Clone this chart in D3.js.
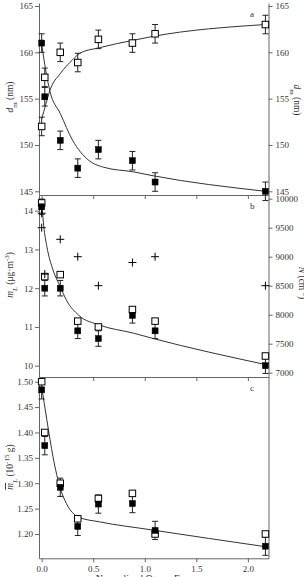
<!DOCTYPE html>
<html>
<head>
<meta charset="utf-8">
<script src="https://cdn.jsdelivr.net/npm/d3@7"></script>
<style>
body { margin: 0; background: #fff; }
svg { display: block; font-family: "Liberation Serif", "DejaVu Serif", serif; }
</style>
</head>
<body>
<svg></svg>
<script>
// ozone exposure of each sample
let exposure = [0, 0.03, 0.18, 0.35, 0.55, 0.88, 1.1, 2.17];

// panel a: mode diameter (nm)
let dmFilled = [161.0, 155.2, 150.5, 147.5, 149.5, 148.3, 146.0, 145.0];
let dmOpen = [152.0, 157.3, 160.0, 158.9, 161.4, 161.0, 162.0, 163.0];
let dmErr = 1.0;
let dmFallX = [0, 0.04, 0.08, 0.18, 0.3, 0.45, 0.6, 0.89, 1.07, 2.17];
let dmFallY = [160.9, 158.0, 155.8, 153.4, 150.5, 148.4, 147.6, 147.1, 146.7, 145.0];
let dmRiseX = [0, 0.04, 0.08, 0.18, 0.3, 0.37, 0.56, 0.89, 1.07, 2.17];
let dmRiseY = [152.8, 154.4, 155.9, 157.7, 159.2, 159.9, 160.5, 161.3, 161.7, 163.0];

// panel b: mass concentration and number concentration
let mlFilled = [14.1, 12.0, 12.0, 10.9, 10.7, 11.3, 10.9, 10.0];
let mlOpen = [14.2, 12.3, 12.35, 11.15, 11.0, 11.45, 11.15, 10.25];
let mlErr = 0.2;
let numX = [0, 0, 0.03, 0.18, 0.35, 0.55, 0.88, 1.1, 2.17];
let numY = [9750, 9500, 8700, 9300, 9000, 8500, 8900, 9000, 8500];
let mlFitX = [0, 0.02, 0.05, 0.11, 0.18, 0.24, 0.36, 0.56, 0.89, 1.07, 2.17];
let mlFitY = [14.2, 13.6, 13.08, 12.47, 12.04, 11.69, 11.3, 11.05, 10.84, 10.71, 10.03];

// panel c: mean particle mass (10^-15 g)
let mpFilled = [1.484, 1.374, 1.292, 1.215, 1.259, 1.26, 1.207, 1.176];
let mpOpen = [1.50, 1.40, 1.30, 1.23, 1.27, 1.28, 1.20, 1.20];
let mpErr = 0.018;
let mpFitX = [0, 0.05, 0.11, 0.18, 0.24, 0.36, 0.56, 1.07, 2.17];
let mpFitY = [1.49, 1.425, 1.352, 1.29, 1.26, 1.233, 1.224, 1.208, 1.175];

// tick labels
let xTicks = [0, 0.5, 1.0, 1.5, 2.0];
let dmTicks = [145, 150, 155, 160, 165];
let mlTicks = [10, 11, 12, 13, 14];
let numTicks = [7000, 7500, 8000, 8500, 9000, 9500, 10000];
let mpTicks = [1.20, 1.25, 1.30, 1.35, 1.40, 1.45, 1.50];

let width = 304;
let height = 577;
let left = 39;
let right = 268.5;
let axisColor = "#666";
let textColor = "#333";

let svg = d3.select("svg").attr("width", width).attr("height", height);

let xScale = d3.scaleLinear().domain([-0.026, 2.2]).range([left, right]);

let panels = [
  { top: 3, bottom: 195, y: d3.scaleLinear().domain([145, 165]).range([191.3, 6]), letter: "a" },
  { top: 195, bottom: 377, y: d3.scaleLinear().domain([10, 14]).range([365.7, 210.7]), letter: "b" },
  { top: 377, bottom: 558.3, y: d3.scaleLinear().domain([1.2, 1.5]).range([534, 381.7]), letter: "c" }
];
let numScale = d3.scaleLinear().domain([7000, 10000]).range([372.7, 198.7]);

let styleAxis = (g) => {
  g.selectAll("path").attr("stroke", axisColor);
  g.selectAll("line").attr("stroke", axisColor);
  g.selectAll("text").attr("fill", textColor).style("font-size", "9px").style("font-family", "Liberation Serif, serif");
};

// frames and axes
panels.forEach((p, i) => {
  let yFull = d3.scaleLinear().domain([0, 1]).range([p.bottom, p.top]);
  svg.append("g")
    .attr("transform", "translate(" + left + ",0)")
    .call(d3.axisLeft(yFull).tickValues([]).tickSizeOuter(0))
    .call(styleAxis);
  svg.append("g")
    .attr("transform", "translate(" + right + ",0)")
    .call(d3.axisRight(yFull).tickValues([]).tickSizeOuter(0))
    .call(styleAxis);
  svg.append("g")
    .attr("transform", "translate(0," + p.bottom + ")")
    .call(d3.axisBottom(xScale).tickValues(xTicks).tickSize(4).tickSizeOuter(0)
      .tickFormat(i == 2 ? d3.format(".1f") : ""))
    .call(styleAxis);

  svg.append("text")
    .attr("x", 250).attr("y", p.top + 14)
    .attr("fill", textColor).style("font-size", "9px")
    .text(p.letter);
});

let intFormat = d3.format("d");

svg.append("g")
  .attr("transform", "translate(" + left + ",0)")
  .call(d3.axisLeft(panels[0].y).tickValues(dmTicks).tickSize(4).tickSizeOuter(0).tickPadding(2).tickFormat(intFormat))
  .call(styleAxis).select(".domain").remove();
svg.append("g")
  .attr("transform", "translate(" + right + ",0)")
  .call(d3.axisRight(panels[0].y).tickValues(dmTicks).tickSize(4).tickSizeOuter(0).tickPadding(3).tickFormat(intFormat))
  .call(styleAxis).select(".domain").remove();
svg.append("g")
  .attr("transform", "translate(" + left + ",0)")
  .call(d3.axisLeft(panels[1].y).tickValues(mlTicks).tickSize(4).tickSizeOuter(0).tickPadding(2).tickFormat(intFormat))
  .call(styleAxis).select(".domain").remove();
svg.append("g")
  .attr("transform", "translate(" + right + ",0)")
  .call(d3.axisRight(numScale).tickValues(numTicks).tickSize(4).tickSizeOuter(0).tickPadding(3).tickFormat(intFormat))
  .call(styleAxis).select(".domain").remove();
svg.append("g")
  .attr("transform", "translate(" + left + ",0)")
  .call(d3.axisLeft(panels[2].y).tickValues(mpTicks).tickSize(4).tickSizeOuter(0).tickPadding(2).tickFormat(d3.format(".2f")))
  .call(styleAxis).select(".domain").remove();

// axis titles
let title = (x, y, rot, parts) => {
  let t = svg.append("text")
    .attr("transform", "translate(" + x + "," + y + ") rotate(" + rot + ")")
    .attr("text-anchor", "middle")
    .attr("fill", textColor)
    .style("font-size", "9.5px");
  parts.forEach((part) => {
    let s = t.append("tspan").text(part.t);
    if (part.i) s.style("font-style", "italic");
    if (part.sub) s.attr("baseline-shift", "sub").style("font-size", "7px");
    if (part.sup) s.attr("baseline-shift", "super").style("font-size", "7px");
    if (part.o) s.style("text-decoration", "overline");
  });
};
title(13, 97, -90, [{ t: "d", i: true }, { t: "m", sub: true }, { t: " (nm)" }]);
title(13, 275, -90, [{ t: "m", i: true }, { t: "L", i: true, sub: true }, { t: " (μg·m" }, { t: "-3", sup: true }, { t: ")" }]);
title(13, 467, -90, [{ t: "m", i: true, o: true }, { t: "L", i: true, sub: true }, { t: " (10" }, { t: "-15", sup: true }, { t: " g)" }]);
title(294, 100, 90, [{ t: "d", i: true }, { t: "m", sub: true }, { t: " (nm)" }]);
title(299, 283, 90, [{ t: "N", i: true }, { t: " (cm" }, { t: "-3", sup: true }, { t: ")" }]);

svg.append("text")
  .attr("x", (left + right) / 2).attr("y", 582)
  .attr("text-anchor", "middle")
  .attr("fill", textColor).style("font-size", "10px")
  .text("Normalized Ozone Exposure");

// fitted curves
let drawCurve = (xs, ys, yScale) => {
  let pts = xs.map((v, i) => [v, ys[i]]);
  svg.append("path")
    .datum(pts)
    .attr("fill", "none")
    .attr("stroke", "#333")
    .attr("stroke-width", 1)
    .attr("d", d3.line().x((d) => xScale(d[0])).y((d) => yScale(d[1])).curve(d3.curveMonotoneX));
};
drawCurve(dmFallX, dmFallY, panels[0].y);
drawCurve(dmRiseX, dmRiseY, panels[0].y);
drawCurve(mlFitX, mlFitY, panels[1].y);
drawCurve(mpFitX, mpFitY, panels[2].y);

// error bars
let drawErrors = (vals, err, yScale) => {
  let g = svg.append("g").attr("stroke", "#222").attr("stroke-width", 1);
  vals.forEach((v, i) => {
    let cx = xScale(exposure[i]);
    g.append("line").attr("x1", cx).attr("x2", cx).attr("y1", yScale(v - err)).attr("y2", yScale(v + err));
    g.append("line").attr("x1", cx - 3).attr("x2", cx + 3).attr("y1", yScale(v - err)).attr("y2", yScale(v - err));
    g.append("line").attr("x1", cx - 3).attr("x2", cx + 3).attr("y1", yScale(v + err)).attr("y2", yScale(v + err));
  });
};

let drawSquares = (vals, yScale, filled) => {
  let s = filled ? 6 : 6.5;
  svg.append("g").selectAll("rect")
    .data(vals)
    .enter()
    .append("rect")
    .attr("x", (d, i) => xScale(exposure[i]) - s / 2)
    .attr("y", (d) => yScale(d) - s / 2)
    .attr("width", s)
    .attr("height", s)
    .attr("fill", filled ? "#000" : "#fff")
    .attr("stroke", "#000")
    .attr("stroke-width", filled ? 0.5 : 1);
};

// panel a
drawErrors(dmOpen, dmErr, panels[0].y);
drawErrors(dmFilled, dmErr, panels[0].y);
drawSquares(dmOpen, panels[0].y, false);
drawSquares(dmFilled, panels[0].y, true);

// panel b
drawErrors(mlFilled, mlErr, panels[1].y);
drawSquares(mlOpen, panels[1].y, false);
drawSquares(mlFilled, panels[1].y, true);
let crosses = svg.append("g").attr("stroke", "#000").attr("stroke-width", 1);
numY.forEach((v, i) => {
  let cx = xScale(numX[i]);
  let cy = numScale(v);
  crosses.append("line").attr("x1", cx - 4).attr("x2", cx + 4).attr("y1", cy).attr("y2", cy);
  crosses.append("line").attr("x1", cx).attr("x2", cx).attr("y1", cy - 4).attr("y2", cy + 4);
});

// panel c
drawErrors(mpFilled, mpErr, panels[2].y);
drawSquares(mpOpen, panels[2].y, false);
drawSquares(mpFilled, panels[2].y, true);
</script>
</body>
</html>
